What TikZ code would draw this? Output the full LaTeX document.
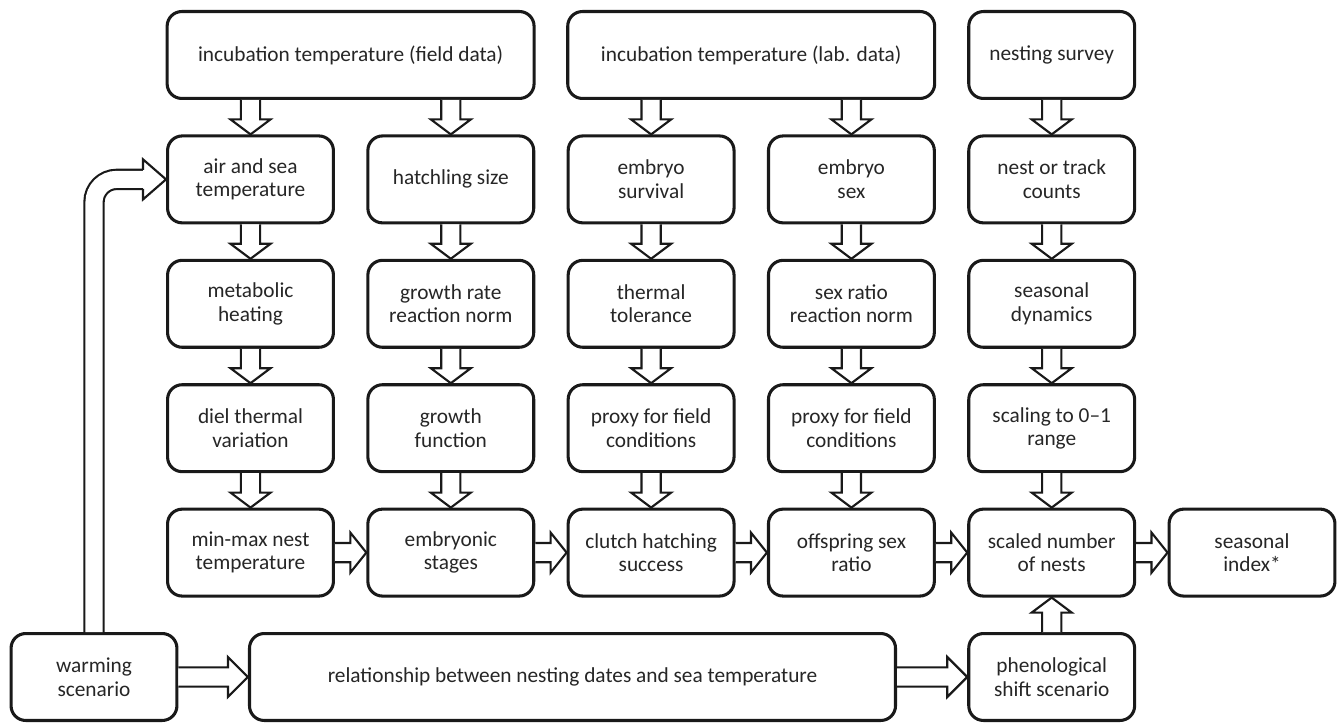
\documentclass[tikz,border=0pt]{standalone}
\usepackage{fontspec}
\setmainfont{Carlito}
\usetikzlibrary{calc}
\tikzset{
  box/.style={draw=black!90, line width=2.3pt, rounded corners=11pt, fill=white,
    minimum width=124.4pt, minimum height=65.2pt, align=center, text=black!85,
    font=\fontsize{16}{17.6}\selectfont},
  hollow/.style={draw=black!90, line width=1.6pt, fill=white, line join=miter,
    to path={let \p1=($(\tikztotarget)!#1!(\tikztostart)$) in
      ($(\tikztostart)!7.2pt!90:(\tikztotarget)$)
      -- ($(\p1)!7.2pt!90:(\tikztotarget)$)
      -- ($(\p1)!15pt!90:(\tikztotarget)$)
      -- (\tikztotarget)
      -- ($(\p1)!15pt!-90:(\tikztotarget)$)
      -- ($(\p1)!7.2pt!-90:(\tikztotarget)$)
      -- ($(\tikztostart)!7.2pt!-90:(\tikztotarget)$)}},
  hollow/.default=11.25pt
}
\begin{document}
\begin{tikzpicture}[x=0.75pt, y=-0.75pt]
\useasboundingbox (0,0) rectangle (1337,723);
% sources
\node[box, minimum width=275.2pt] (IncF) at (350.6, 55) {incubation temperature (field data)};
\node[box, minimum width=275.2pt] (IncL) at (751.2, 55) {incubation temperature (lab. data)};
\node[box] (Survey) at (1051.7, 55) {nesting survey};
% second row
\node[box] (Air) at (250.5, 179.4) {air and sea\\temperature};
\node[box] (Hatch) at (450.8, 179.4) {hatchling size};
\node[box] (Surv) at (651.1, 179.4) {embryo\\survival};
\node[box] (Sex) at (851.4, 179.4) {embryo\\sex};
\node[box] (Count) at (1051.7, 179.4) {nest or track\\counts};
% third row
\node[box] (Metab) at (250.5, 303.8) {metabolic\\heating};
\node[box] (Growth) at (450.8, 303.8) {growth rate\\reaction norm};
\node[box] (Tol) at (651.1, 303.8) {thermal\\tolerance};
\node[box] (SexNorm) at (851.4, 303.8) {sex ratio\\reaction norm};
\node[box] (Seas) at (1051.7, 303.8) {seasonal\\dynamics};
% fourth row
\node[box] (Diel) at (250.5, 428.2) {diel thermal\\variation};
\node[box] (GrowF) at (450.8, 428.2) {growth\\function};
\node[box] (ProxyA) at (651.1, 428.2) {proxy for field\\conditions};
\node[box] (ProxyB) at (851.4, 428.2) {proxy for field\\conditions};
\node[box] (Scale) at (1051.7, 428.2) {scaling to 0--1\\range};
% fifth row
\node[box] (MinMax) at (250.5, 552.6) {min-max nest\\temperature};
\node[box] (Stages) at (450.8, 552.6) {embryonic\\stages};
\node[box] (Success) at (651.1, 552.6) {clutch hatching\\success};
\node[box] (Ratio) at (851.4, 552.6) {offspring sex\\ratio};
\node[box] (Nests) at (1051.7, 552.6) {scaled number\\of nests};
\node[box] (Index) at (1252, 552.6) {seasonal\\index*};
% scenarios
\node[box] (Warm) at (94, 677) {warming\\scenario};
\node[box, minimum width=484.5pt] (Rel) at (572.5, 677) {relationship between nesting dates and sea temperature};
\node[box] (Shift) at (1051.7, 677) {phenological\\shift scenario};
% block arrows
\draw[hollow] (IncF.south -| Air.north) to (Air.north);
\draw[hollow] (IncF.south -| Hatch.north) to (Hatch.north);
\draw[hollow] (IncL.south -| Surv.north) to (Surv.north);
\draw[hollow] (IncL.south -| Sex.north) to (Sex.north);
\foreach \a/\b in {Survey/Count, Air/Metab, Metab/Diel, Diel/MinMax,
  Hatch/Growth, Growth/GrowF, GrowF/Stages, Surv/Tol, Tol/ProxyA, ProxyA/Success,
  Sex/SexNorm, SexNorm/ProxyB, ProxyB/Ratio, Count/Seas, Seas/Scale, Scale/Nests}
  \draw[hollow] (\a.south) to (\b.north);
\foreach \a/\b in {MinMax/Stages, Stages/Success, Success/Ratio, Ratio/Nests, Nests/Index}
  \draw[hollow=12pt] (\a.east) to (\b.west);
\draw[hollow] (Shift.north) to (Nests.south);
\draw[hollow=15pt] (Warm.east) to (Rel.west);
\draw[hollow=15pt] (Rel.east) to (Shift.west);
% warming feeds air and sea temperature
\coordinate (AirIn) at ($(Air.west)+(-23,0)$);
\draw[line width=1.6pt, draw=black!90, double=white, double distance=12.8pt, rounded corners=17pt]
  (Warm.north) |- (AirIn);
\draw[hollow=17.25pt] (AirIn) to (Air.west);
\end{tikzpicture}
\end{document}
